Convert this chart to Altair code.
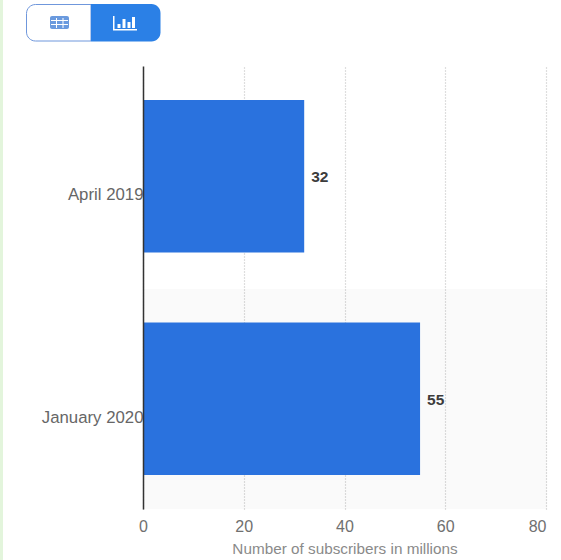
import altair as alt
import pandas as pd

# Subscriber counts, in millions
periods = ["April 2019", "January 2020"]
subscribers = [32, 55]
x_ticks = [0, 20, 40, 60, 80]
x_title = "Number of subscribers in millions"

BLUE = "#2a72de"
TOGGLE_BLUE = "#2b80e6"
TOGGLE_EDGE = "#6f97dc"
ICON_BLUE = "#6a9ade"
FONT = "Liberation Sans"
VIEW_W, VIEW_H = 403, 443
LEFT, TOP = 143, 66

data = pd.DataFrame({"period": periods, "subscribers": subscribers})


def box(x0, y0, x1, y1, color, **mark):
    """Page-furniture rectangle, given in page pixels."""
    return alt.Chart(data).transform_filter("datum.subscribers == 32").mark_rect(
        color=color, **mark
    ).encode(
        x=alt.value(x0 - LEFT),
        x2=alt.value(x1 - LEFT),
        y=alt.value(y0 - TOP),
        y2=alt.value(y1 - TOP),
    )


x_scale = alt.Scale(domain=[0, 80], nice=False)
y_scale = alt.Scale(domain=periods, paddingInner=0.315, paddingOuter=0.153)

x_enc = alt.X(
    "subscribers:Q",
    scale=x_scale,
    title=x_title,
    axis=alt.Axis(
        values=x_ticks,
        grid=True,
        gridColor="#bdbdbd",
        gridDash=[1, 2],
        gridWidth=1.2,
        domain=False,
        ticks=False,
        labelFont=FONT,
        labelFontSize=16,
        labelColor="#707070",
        labelPadding=9,
        labelAlign=alt.expr("datum.value == 80 ? 'right' : 'center'"),
        titleFont=FONT,
        titleFontSize=15.3,
        titleFontWeight="normal",
        titleColor="#8a8a8a",
        titlePadding=7,
    ),
)
y_enc = alt.Y(
    "period:N",
    scale=y_scale,
    sort=periods,
    title=None,
    axis=alt.Axis(
        grid=False,
        ticks=False,
        domain=True,
        domainColor="#333333",
        domainWidth=1.5,
        labelFont=FONT,
        labelFontSize=16.8,
        labelColor="#666666",
        labelPadding=0,
        labelOffset=19,
        zindex=1,
    ),
)

# Shaded band behind the second row; translucent so the grid shows through
band = box(LEFT, 289, LEFT + VIEW_W + 1, TOP + VIEW_H, "#000000", opacity=0.02)
bars = alt.Chart(data).mark_bar(color=BLUE).encode(x=x_enc, y=y_enc)
values = alt.Chart(data).mark_text(
    align="left", baseline="middle", dx=7, dy=1, font=FONT, fontSize=15.5, fontWeight="bold", color="#3c3c3c"
).encode(
    x=alt.X("subscribers:Q", scale=x_scale),
    y=alt.Y("period:N", scale=y_scale, sort=periods),
    text="subscribers:Q",
)

# Pale strip down the left edge of the page
strip = box(0, 0, 3, 560, "#e3f5dc")

# Table / chart toggle above the plot
toggle = [
    box(26.5, 4.5, 91, 41, "#ffffff", stroke=TOGGLE_EDGE, strokeWidth=1,
        cornerRadiusTopLeft=9, cornerRadiusBottomLeft=9),
    box(91, 4, 160.5, 41.5, TOGGLE_BLUE, cornerRadiusTopRight=9, cornerRadiusBottomRight=9),
    box(50, 16, 69, 29, ICON_BLUE, cornerRadius=2),
]
for gx in (56, 62.5):
    toggle.append(box(gx, 18, gx + 1, 28, "#ffffff"))
for gy in (20, 24):
    toggle.append(box(51, gy, 68, gy + 1, "#ffffff"))
toggle += [
    box(113, 16, 114.5, 30, "#ffffff"),
    box(113, 29, 137, 30.5, "#ffffff"),
    box(117.5, 24, 120.5, 28, "#ffffff"),
    box(122.5, 19, 125.5, 28, "#ffffff"),
    box(127.5, 22, 130.5, 28, "#ffffff"),
    box(132, 17, 135, 28, "#ffffff"),
]

chart = alt.layer(band, bars, values, strip, *toggle).properties(
    width=VIEW_W,
    height=VIEW_H,
    padding={"left": LEFT, "top": TOP, "right": 15, "bottom": 51},
    autosize=alt.AutoSizeParams(type="none"),
    background="#ffffff",
).configure_view(stroke=None)

chart.save("out.html", embed_options={"renderer": "svg", "actions": False})
